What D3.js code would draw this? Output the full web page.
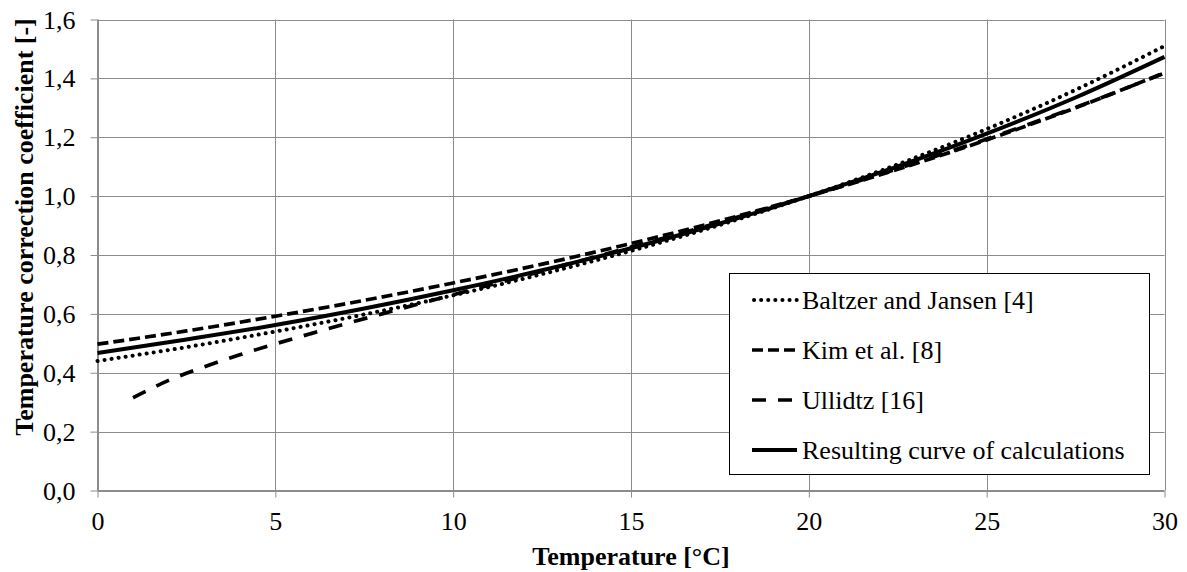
<!DOCTYPE html>
<html>
<head>
<meta charset="utf-8">
<script src="https://cdn.jsdelivr.net/npm/d3@7"></script>
<style>
  html, body { margin: 0; padding: 0; background: #fff; }
  svg { display: block; }
</style>
</head>
<body>
<svg id="chart" width="1187" height="572"></svg>
<script>
// ---- data ----
const temps = [0, 2.5, 5, 7.5, 10, 12.5, 15, 17.5, 20, 22.5, 25, 27.5, 30];
const baltzer = [0.440, 0.487, 0.540, 0.598, 0.663, 0.735, 0.814, 0.902, 1.000, 1.108, 1.228, 1.361, 1.510];
const kim = [0.497, 0.542, 0.592, 0.646, 0.705, 0.769, 0.839, 0.916, 1.000, 1.091, 1.191, 1.300, 1.419];
const result = [0.467, 0.513, 0.562, 0.618, 0.680, 0.748, 0.823, 0.907, 1.000, 1.101, 1.212, 1.335, 1.473];
const ullidtzTemps = [1, 2, 3, 4, 5, 6, 7, 8, 9, 10, 12, 14, 16, 18, 20, 22, 24, 26, 28, 30];
const ullidtz = [0.315, 0.374, 0.420, 0.461, 0.498, 0.533, 0.567, 0.600, 0.633, 0.665, 0.729, 0.794, 0.860, 0.929, 1.000, 1.074, 1.153, 1.236, 1.324, 1.418];
const xTicks = [0, 5, 10, 15, 20, 25, 30];
const yTicks = [0, 0.2, 0.4, 0.6, 0.8, 1.0, 1.2, 1.4, 1.6];
const seriesNames = ["Baltzer and Jansen [4]", "Kim et al. [8]", "Ullidtz [16]", "Resulting curve of calculations"];
const xTitle = "Temperature [°C]";
const yTitle = "Temperature correction coefficient [-]";

// ---- layout ----
const FONT = '"Liberation Serif", "Times New Roman", Times, serif';
const mLeft = 97.5, mRight = 1164.5, mTop = 19.5, mBottom = 490.5;
const gridColor = "#8c8c8c";

const svg = d3.select("#chart");
const x = d3.scaleLinear().domain([0, 30]).range([mLeft, mRight]);
const y = d3.scaleLinear().domain([0, 1.6]).range([mBottom, mTop]);
const fmt = v => d3.format(".1f")(v).replace(".", ",");

// gridlines
svg.append("g").selectAll("line").data(yTicks).join("line")
  .attr("x1", mLeft).attr("x2", mRight)
  .attr("y1", d => Math.round(y(d)) + 0.5).attr("y2", d => Math.round(y(d)) + 0.5)
  .attr("stroke", gridColor).attr("stroke-width", 1);
svg.append("g").selectAll("line").data(xTicks).join("line")
  .attr("y1", mTop).attr("y2", mBottom)
  .attr("x1", d => Math.round(x(d)) + 0.5).attr("x2", d => Math.round(x(d)) + 0.5)
  .attr("stroke", gridColor).attr("stroke-width", 1);

// axes
const xAxis = d3.axisBottom(x).tickValues(xTicks).tickSize(7).tickFormat(d3.format("d"));
const gx = svg.append("g").attr("transform", `translate(0,${mBottom})`).call(xAxis)
  .attr("font-family", FONT).attr("font-size", 26);
gx.selectAll("path, line").attr("stroke", gridColor);
gx.selectAll("text").attr("font-family", FONT).attr("font-size", 26).attr("y", 39).attr("dy", 0).attr("fill", "#000");

const yAxis = d3.axisLeft(y).tickValues(yTicks).tickSize(7).tickFormat(fmt);
const gy = svg.append("g").attr("transform", `translate(${mLeft},0)`).call(yAxis)
  .attr("font-family", FONT).attr("font-size", 26);
gy.selectAll("path, line").attr("stroke", gridColor);
gy.selectAll("text").attr("font-family", FONT).attr("font-size", 26).attr("x", -22).attr("dy", "0.33em").attr("fill", "#000");
gx.select(".domain").remove();
gy.select(".domain").remove();
svg.append("line").attr("x1", mLeft).attr("x2", mRight).attr("y1", mBottom).attr("y2", mBottom).attr("stroke", gridColor);
svg.append("line").attr("x1", mLeft).attr("x2", mLeft).attr("y1", mTop).attr("y2", mBottom).attr("stroke", gridColor);

// series
const styles = [
  { width: 4, dash: "0.1 7", cap: "round" },
  { width: 3.7, dash: "11 5", cap: "butt" },
  { width: 3.7, dash: "14 12", cap: "butt" },
  { width: 4, dash: null, cap: "butt" }
];
const seriesData = [
  temps.map((t, i) => [t, baltzer[i]]),
  temps.map((t, i) => [t, kim[i]]),
  ullidtzTemps.map((t, i) => [t, ullidtz[i]]),
  temps.map((t, i) => [t, result[i]])
];
const line = d3.line().x(d => x(d[0])).y(d => y(d[1])).curve(d3.curveMonotoneX);
seriesData.forEach((data, i) => {
  const s = styles[i];
  svg.append("path").datum(data).attr("d", line)
    .attr("fill", "none").attr("stroke", "#000")
    .attr("stroke-width", s.width)
    .attr("stroke-linecap", s.cap)
    .attr("stroke-dasharray", s.dash);
});

// legend
const lg = svg.append("g");
lg.append("rect").attr("x", 729.5).attr("y", 273.5).attr("width", 420).attr("height", 201)
  .attr("fill", "#fff").attr("stroke", "#000").attr("stroke-width", 1);
seriesNames.forEach((name, i) => {
  const cy = 300 + i * 50;
  const s = styles[i];
  lg.append("line").attr("x1", i === 0 ? 754 : 752).attr("x2", 797).attr("y1", cy).attr("y2", cy)
    .attr("stroke", "#000").attr("stroke-width", s.width)
    .attr("stroke-linecap", s.cap).attr("stroke-dasharray", s.dash);
  lg.append("text").attr("x", 802).attr("y", cy + 9).attr("font-family", FONT)
    .attr("font-size", 26).attr("fill", "#000").text(name);
});

// titles
svg.append("text").attr("x", (mLeft + mRight) / 2).attr("y", 565)
  .attr("text-anchor", "middle").attr("font-family", FONT).attr("font-size", 26)
  .attr("font-weight", "bold").attr("fill", "#000").text(xTitle);
svg.append("text").attr("transform", "translate(33,227) rotate(-90)")
  .attr("text-anchor", "middle").attr("font-family", FONT).attr("font-size", 26)
  .attr("font-weight", "bold").attr("fill", "#000").text(yTitle);
</script>
</body>
</html>
